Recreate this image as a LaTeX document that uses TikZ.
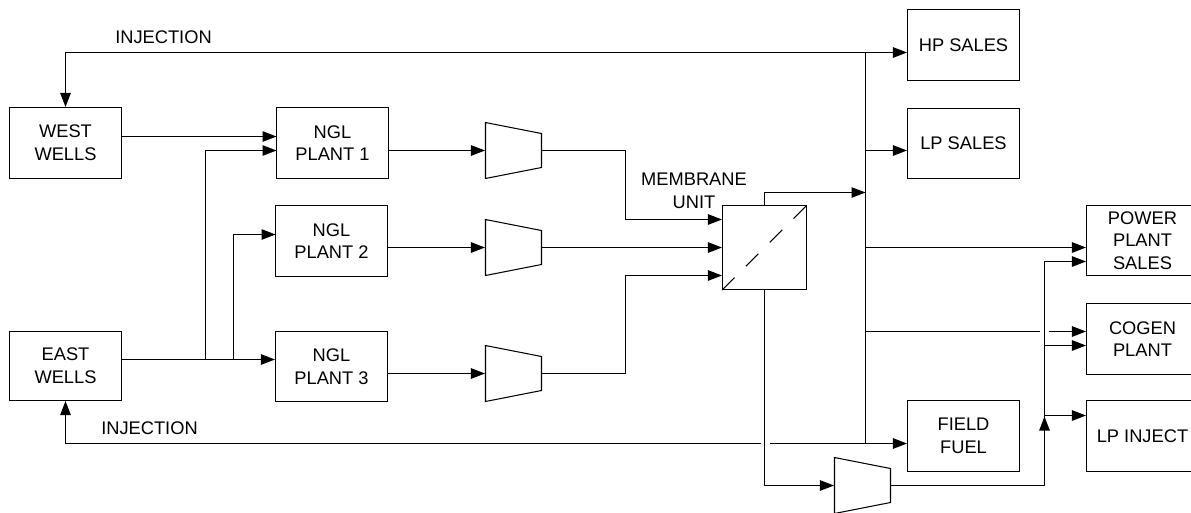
\documentclass[tikz,border=0pt]{standalone}
\usepackage{fontspec}
\setmainfont{Liberation Sans}
\usetikzlibrary{shapes.geometric, arrows.meta, positioning, calc}
\tikzset{
  box/.style={rectangle, draw=black, fill=white,
    minimum width=2.24cm, minimum height=1.42cm, inner sep=0pt,
    align=center, font=\fontsize{10.4}{12.9}\selectfont, line width=0.6pt},
  comp/.style={trapezium, draw=black, fill=white, trapezium stretches=true,
    trapezium left angle=72.1, trapezium right angle=72.1, shape border rotate=270,
    minimum width=1.12cm, minimum height=1.12cm, inner sep=2pt, line width=0.6pt},
  tag/.style={align=center, inner sep=0pt, font=\fontsize{10.4}{12.9}\selectfont},
  arrow/.style={-{Triangle[length=0.28cm, width=0.21cm]}, line width=0.6pt},
  line/.style={line width=0.6pt}
}
\begin{document}
\begin{tikzpicture}[x=0.02cm, y=0.02cm]
  \clip (0,0) rectangle (1191,-512);

  % Wells
  \node[box] (wellW) at (65.5,-143) {WEST\\WELLS};
  \node[box, minimum height=1.38cm] (wellE) at (65.5,-366) {EAST\\WELLS};

  % Plants
  \node[box] (plantA) at (332.5,-143) {NGL\\PLANT 1};
  \node[box] (plantB) at (331.5,-241) {NGL\\PLANT 2};
  \node[box, minimum height=1.4cm] (plantC) at (331.5,-366.5) {NGL\\PLANT 3};

  % Compressors
  \node[comp] (compA) at (513.5,-150.5) {};
  \node[comp] (compB) at (513.5,-247.5) {};
  \node[comp] (compC) at (513.5,-373.5) {};
  \node[comp] (compD) at (862.5,-485.5) {};

  % Membrane
  \node[box, minimum width=1.68cm, minimum height=1.68cm] (memb) at (764.5,-247.5) {};
  \draw[line, dash pattern=on 0.354cm off 0.32cm] (memb.south west) -- (memb.north east);

  % Sales
  \node[box] (hpSale) at (963.5,-45) {HP SALES};
  \node[box, minimum height=1.4cm] (lpSale) at (963.5,-143.5) {LP SALES};
  \node[box] (fuel) at (963.5,-436) {FIELD\\FUEL};
  \node[box, minimum height=1.4cm] (power) at (1142.5,-240.5) {POWER\\PLANT\\SALES};
  \node[box] (cogen) at (1142.5,-339) {COGEN\\PLANT};
  \node[box] (inject) at (1142.5,-436) {LP INJECT};

  % Labels
  \node[tag] (injTop) at (163.5,-37) {INJECTION};
  \node[tag] (injLow) at (149.5,-428) {INJECTION};
  \node[tag] (membTag) at (694,-191) {MEMBRANE\\UNIT};

  % Junctions
  \coordinate (busTop) at (865.5,-52.5);
  \coordinate (busLP) at (865.5,-150.5);
  \coordinate (busOut) at (865.5,-192.5);
  \coordinate (busPower) at (865.5,-247.5);
  \coordinate (busCogen) at (865.5,-331.5);
  \coordinate (busFuel) at (865.5,-443.5);
  \coordinate (teeA) at (205.5,-359.5);
  \coordinate (teeB) at (233.5,-359.5);
  \coordinate (inWest) at (276.5,-136.5);
  \coordinate (inAux) at (276.5,-150.5);
  \coordinate (inB) at (275.5,-234.5);
  \coordinate (bendA) at (625.5,-219.5);
  \coordinate (bendC) at (625.5,-275.5);
  \coordinate (gapCw) at (1039.5,-331.5);
  \coordinate (gapCe) at (1048.5,-331.5);
  \coordinate (gapFw) at (760.5,-443.5);
  \coordinate (gapFe) at (769.5,-443.5);
  \coordinate (riseTip) at (1044.5,-416.5);
  \coordinate (riseTop) at (1044.5,-261.5);
  \coordinate (riseCogen) at (1044.5,-345.5);
  \coordinate (riseInj) at (1044.5,-415.5);

  % Feed paths
  \draw[arrow] (wellW.east |- inWest) -- (inWest);
  \draw[arrow] (wellE.east |- teeA) -- (plantC.west |- teeA);
  \draw[arrow] (teeA) |- (inAux);
  \draw[arrow] (teeB) |- (inB);
  \draw[arrow] (plantA.east |- compA.west) -- (compA.west);
  \draw[arrow] (plantB.east |- compB.west) -- (compB.west);
  \draw[arrow] (plantC.east |- compC.west) -- (compC.west);
  \draw[arrow] (compA.east) -| (bendA) -- (memb.west |- bendA);
  \draw[arrow] (compB.east) -- (memb.west |- compB.east);
  \draw[arrow] (compC.east) -| (bendC) -- (memb.west |- bendC);

  % Bus
  \draw[line] (busTop) -- (busFuel);
  \draw[arrow] (busTop) -- (wellW |- busTop) -- (wellW.north);
  \draw[arrow] (busTop) -- (hpSale.west |- busTop);
  \draw[arrow] (busLP) -- (lpSale.west |- busLP);
  \draw[arrow] (memb.north) |- (busOut);
  \draw[arrow] (busPower) -- (power.west |- busPower);
  \draw[line] (busCogen) -- (gapCw);
  \draw[arrow] (gapCe) -- (cogen.west |- gapCe);
  \draw[arrow] (busFuel) -- (fuel.west |- busFuel);
  \draw[line] (busFuel) -- (gapFe);
  \draw[arrow] (gapFw) -- (wellE |- gapFw) -- (wellE.south);

  % Permeate side
  \draw[arrow] (memb.south) |- (compD.west);
  \draw[arrow] (compD.east) -| (riseTip);
  \draw[arrow] (riseTip) |- (power.west |- riseTop);
  \draw[arrow] (riseCogen) -- (cogen.west |- riseCogen);
  \draw[arrow] (riseInj) -- (inject.west |- riseInj);
\end{tikzpicture}
\end{document}
